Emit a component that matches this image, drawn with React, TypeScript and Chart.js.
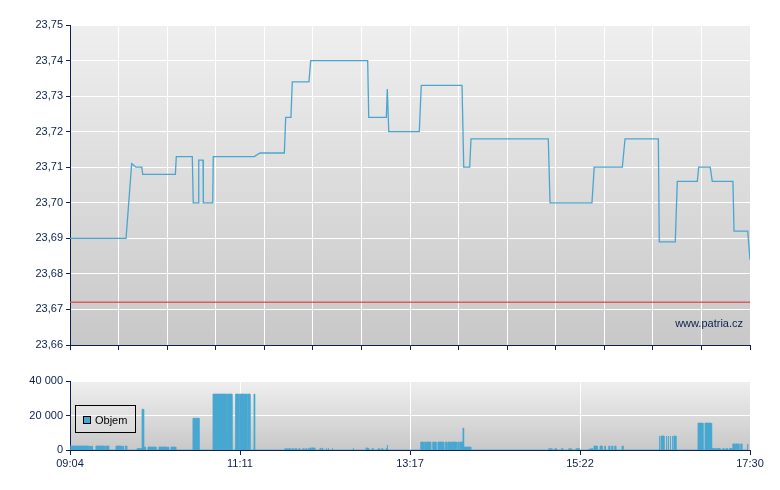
import React, { useEffect, useRef } from "react";
import { Chart, registerables } from "chart.js";

Chart.register(...registerables);

// ---- data -------------------------------------------------------------
// session length in minutes (09:04 -> 17:30)
const SESSION_MINUTES = 506;
const timeLabels = ["09:04", "11:11", "13:17", "15:22", "17:30"];
const priceTicks = [23.66, 23.67, 23.68, 23.69, 23.7, 23.71, 23.72, 23.73, 23.74, 23.75];
const volumeTicks = [0, 20000, 40000];
const refPrice = 23.672;

// price path: minutes since 09:04 and price
const priceTimes = [
  0, 41.7, 45.9, 49.1, 53.4, 54.1, 78.4, 79.1, 91.0, 91.7, 95.5, 95.8, 99.0, 99.2,
  106.2, 106.6, 137.1, 141.4, 159.5, 160.5, 164.4, 165.4, 177.8, 179.1, 221.5, 222.3,
  235.4, 236.1, 237.2, 259.9, 261.4, 291.7, 293.0, 297.4, 298.4, 355.9, 357.2, 388.4,
  390.1, 411.0, 413.0, 437.8, 438.5, 450.4, 451.9, 466.8, 467.8, 476.4, 477.9, 493.3,
  494.1, 504.3, 506,
];
const prices = [
  23.69, 23.69, 23.711, 23.71, 23.71, 23.708, 23.708, 23.713, 23.713, 23.7, 23.7, 23.712,
  23.712, 23.7, 23.7, 23.713, 23.713, 23.714, 23.714, 23.724, 23.724, 23.734, 23.734,
  23.74, 23.74, 23.724, 23.724, 23.732, 23.72, 23.72, 23.733, 23.733, 23.71, 23.71,
  23.718, 23.718, 23.7, 23.7, 23.71, 23.71, 23.718, 23.718, 23.689, 23.689, 23.706,
  23.706, 23.71, 23.71, 23.706, 23.706, 23.692, 23.692, 23.684,
];

// volume bars: start / end (minutes since 09:04) and volume
const volStart = [
  0.2, 14.7, 16.1, 19.3, 26.6, 34.2, 39.2, 41.1, 49.9, 53.6,
  55.1, 58.0, 66.2, 72.9, 75.2, 91.5, 106.4, 117.0, 123.2, 126.0,
  130.2, 131.9, 136.9, 159.8, 165.2, 167.2, 170.2, 173.2, 175.1, 177.1,
  178.6, 180.1, 186.0, 187.5, 190.5, 192.0, 195.0, 210.6, 220.3, 221.7,
  224.7, 229.2, 231.6, 235.1, 235.9, 261.0, 263.9, 265.4, 269.9, 271.4,
  273.8, 279.3, 281.3, 283.5, 288.5, 290.0, 292.4, 292.9, 295.4, 356.2,
  357.7, 360.7, 365.6, 371.1, 372.6, 376.5, 386.0, 387.5, 389.9, 394.4,
  397.9, 400.9, 403.1, 405.3, 410.8, 438.3, 439.8, 443.5, 445.0, 446.5,
  448.0, 449.4, 467.3, 472.5, 477.7, 480.7, 482.7, 485.7, 488.1, 490.6,
  492.1, 493.3, 495.3, 496.8, 499.1, 503.8,
];
const volEnd = [
  13.9, 15.1, 16.6, 25.8, 28.8, 38.2, 39.7, 42.2, 53.1, 54.8,
  56.0, 64.0, 72.2, 73.4, 78.7, 96.0, 116.6, 120.5, 125.5, 129.9,
  131.3, 133.9, 137.4, 164.2, 166.2, 168.7, 171.1, 174.1, 176.1, 178.1,
  179.5, 182.1, 186.5, 188.0, 191.0, 192.5, 195.5, 211.1, 221.2, 222.3,
  225.7, 230.2, 232.7, 235.7, 236.4, 263.2, 264.9, 268.4, 270.9, 272.4,
  278.1, 280.5, 282.8, 287.5, 289.2, 292.4, 292.9, 295.2, 298.2, 357.2,
  358.7, 362.1, 366.6, 372.1, 373.0, 379.0, 386.9, 389.0, 392.2, 395.9,
  398.3, 401.6, 403.8, 406.1, 411.5, 439.0, 442.0, 444.2, 445.5, 447.0,
  448.7, 450.9, 471.0, 477.0, 479.9, 482.2, 483.7, 486.6, 489.1, 491.6,
  493.1, 494.8, 496.3, 497.8, 499.9, 504.5,
];
const volValue = [
  2300, 2300, 2300, 2300, 2300, 2300, 2300, 2300, 800, 23600,
  1700, 1700, 1700, 1700, 1700, 18400, 32400, 32400, 32400, 32400,
  32400, 32400, 32400, 700, 700, 700, 700, 700, 700, 700,
  1200, 1200, 1000, 1000, 1000, 1000, 1000, 900, 1200, 900,
  700, 700, 700, 700, 2900, 4600, 4600, 4600, 4600, 4600,
  4600, 4600, 4600, 4600, 4600, 4600, 12700, 1700, 1700, 700,
  700, 700, 700, 700, 700, 700, 500, 700, 2300, 2300,
  2300, 2300, 2300, 2300, 2300, 8100, 8100, 8100, 8100, 8100,
  8100, 8100, 15600, 15600, 800, 800, 800, 800, 800, 800,
  800, 3500, 3500, 3500, 3500, 3500,
];

// ---- styling ----------------------------------------------------------
const FONT = "'Liberation Sans', Arial, Helvetica, sans-serif";
const NAVY = "#0c2152";
const LINE_BLUE = "#4aa6cf";
const BAR_BLUE = "#47a7d0";
const RED = "rgba(226,72,72,0.85)";

const bgPlugin = {
  id: "plotBg",
  beforeDraw(chart: any) {
    const { ctx, chartArea } = chart;
    if (!chartArea) return;
    const { left, top, right, bottom } = chartArea;
    const g = ctx.createLinearGradient(0, top, 0, bottom);
    g.addColorStop(0, "#efefef");
    g.addColorStop(1, "#c8c8c8");
    ctx.save();
    ctx.fillStyle = g;
    ctx.fillRect(left, top, right - left, bottom - top);
    ctx.restore();
  },
};

const watermarkPlugin = {
  id: "watermark",
  afterDraw(chart: any) {
    const { ctx, chartArea } = chart;
    ctx.save();
    ctx.font = `11px ${FONT}`;
    ctx.fillStyle = NAVY;
    ctx.textAlign = "right";
    ctx.textBaseline = "alphabetic";
    ctx.fillText("www.patria.cz", chartArea.right - 7, chartArea.bottom - 18);
    ctx.restore();
  },
};

const volLegendPlugin = {
  id: "volLegend",
  afterDraw(chart: any) {
    const { ctx, chartArea } = chart;
    const ds = chart.data.datasets[0];
    const x = chartArea.left + 5.5;
    const y = chartArea.top + 24.5;
    ctx.save();
    ctx.fillStyle = "rgba(236,236,236,0.35)";
    ctx.fillRect(x, y, 60, 27);
    ctx.strokeStyle = "#000";
    ctx.lineWidth = 1;
    ctx.strokeRect(x, y, 60, 27);
    ctx.fillStyle = ds.backgroundColor;
    ctx.fillRect(x + 8, y + 11, 7, 7);
    ctx.strokeRect(x + 8, y + 11, 7, 7);
    ctx.fillStyle = "#000";
    ctx.font = `11px ${FONT}`;
    ctx.textAlign = "left";
    ctx.textBaseline = "middle";
    ctx.fillText(ds.label, x + 19.5, y + 15);
    ctx.restore();
  },
};

const fmtThousands = (v: number) =>
  String(Math.round(v)).replace(/\B(?=(\d{3})+(?!\d))/g, " ");

export default function App() {
  const topRef = useRef<HTMLCanvasElement>(null);
  const botRef = useRef<HTMLCanvasElement>(null);

  useEffect(() => {
    const topGrid = Array.from({ length: 15 }, (_, i) => (i * SESSION_MINUTES) / 14);
    const botGrid = timeLabels.map((_, i) => (i * SESSION_MINUTES) / (timeLabels.length - 1));

    const priceData = priceTimes.map((t, i) => ({ x: t, y: prices[i] }));
    const refData = [
      { x: 0, y: refPrice },
      { x: SESSION_MINUTES, y: refPrice },
    ];
    const volData: { x: number; y: number }[] = [];
    volStart.forEach((s, i) => {
      volData.push({ x: s, y: 0 }, { x: s, y: volValue[i] }, { x: volEnd[i], y: volValue[i] }, { x: volEnd[i], y: 0 });
    });

    const tickFont = { family: FONT, size: 11 };

    const c1 = new Chart(topRef.current as HTMLCanvasElement, {
      type: "line",
      data: {
        datasets: [
          {
            label: "Ref",
            data: refData,
            borderColor: RED,
            borderWidth: 1.5,
            pointRadius: 0,
            tension: 0,
            fill: false,
          },
          {
            label: "Cena",
            data: priceData,
            borderColor: LINE_BLUE,
            borderWidth: 1.3,
            pointRadius: 0,
            tension: 0,
            fill: false,
          },
        ],
      } as any,
      options: {
        responsive: false,
        animation: false,
        events: [],
        layout: { padding: { left: 0, right: 30, top: 25, bottom: 0 } },
        plugins: { legend: { display: false }, tooltip: { enabled: false } },
        scales: {
          x: {
            type: "linear",
            min: 0,
            max: SESSION_MINUTES,
            afterBuildTicks: (s: any) => {
              s.ticks = topGrid.map((v) => ({ value: v }));
            },
            afterFit: (s: any) => {
              s.height = 15;
            },
            ticks: { display: false },
            grid: { color: "#ffffff", lineWidth: 1, tickColor: NAVY, tickLength: 5, drawTicks: true },
            border: { display: true, color: NAVY, width: 1 },
          },
          y: {
            type: "linear",
            min: priceTicks[0],
            max: priceTicks[priceTicks.length - 1],
            afterBuildTicks: (s: any) => {
              s.ticks = priceTicks.map((v) => ({ value: v }));
            },
            afterFit: (s: any) => {
              s.width = 70;
            },
            ticks: {
              color: NAVY,
              font: tickFont,
              padding: 3,
              callback: (v: any) => Number(v).toFixed(2).replace(".", ","),
            },
            grid: { color: "#ffffff", lineWidth: 1, tickColor: NAVY, tickLength: 4 },
            border: { display: true, color: NAVY, width: 1 },
          },
        },
      } as any,
      plugins: [bgPlugin, watermarkPlugin],
    });

    const c2 = new Chart(botRef.current as HTMLCanvasElement, {
      type: "line",
      data: {
        datasets: [
          {
            label: "Objem",
            data: volData,
            borderColor: BAR_BLUE,
            backgroundColor: BAR_BLUE,
            borderWidth: 0.8,
            pointRadius: 0,
            tension: 0,
            fill: "origin",
          },
        ],
      } as any,
      options: {
        responsive: false,
        animation: false,
        events: [],
        layout: { padding: { left: 0, right: 30, top: 21, bottom: 0 } },
        plugins: { legend: { display: false }, tooltip: { enabled: false } },
        scales: {
          x: {
            type: "linear",
            min: 0,
            max: SESSION_MINUTES,
            afterBuildTicks: (s: any) => {
              s.ticks = botGrid.map((v) => ({ value: v }));
            },
            afterFit: (s: any) => {
              s.height = 40;
            },
            ticks: {
              color: NAVY,
              font: tickFont,
              padding: 2,
              maxRotation: 0,
              autoSkip: false,
              callback: (_v: any, i: number) => timeLabels[i],
            },
            grid: { color: "#ffffff", lineWidth: 1, tickColor: NAVY, tickLength: 5 },
            border: { display: true, color: NAVY, width: 1 },
          },
          y: {
            type: "linear",
            min: volumeTicks[0],
            max: volumeTicks[volumeTicks.length - 1],
            afterBuildTicks: (s: any) => {
              s.ticks = volumeTicks.map((v) => ({ value: v }));
            },
            afterFit: (s: any) => {
              s.width = 70;
            },
            ticks: {
              color: NAVY,
              font: tickFont,
              padding: 3,
              callback: (v: any) => fmtThousands(Number(v)),
            },
            grid: { color: "#ffffff", lineWidth: 1, tickColor: NAVY, tickLength: 4 },
            border: { display: true, color: NAVY, width: 1 },
          },
        },
      } as any,
      plugins: [bgPlugin, volLegendPlugin],
    });

    return () => {
      c1.destroy();
      c2.destroy();
    };
  }, []);

  return (
    <div style={{ position: "fixed", left: 0, top: 0, width: 780, height: 490, background: "#ffffff" }}>
      <canvas
        ref={topRef}
        width={780}
        height={360}
        style={{ position: "absolute", left: 0, top: 0, width: 780, height: 360 }}
      />
      <canvas
        ref={botRef}
        width={780}
        height={130}
        style={{ position: "absolute", left: 0, top: 360, width: 780, height: 130 }}
      />
    </div>
  );
}
